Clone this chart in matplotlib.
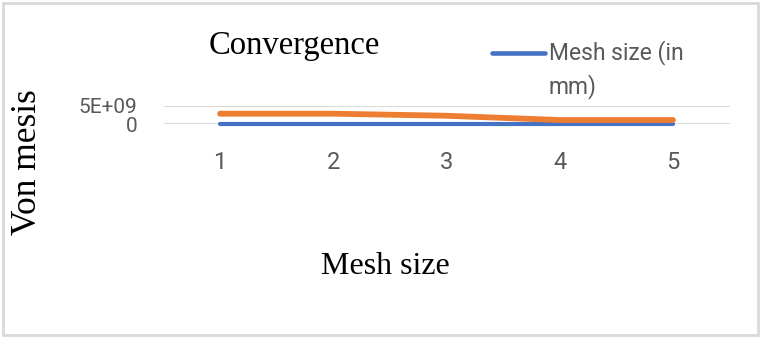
import matplotlib
matplotlib.use('Agg')
from matplotlib import pyplot as plt
from matplotlib.lines import Line2D
from matplotlib.patches import Rectangle

# data
mesh_cats = ['1', '2', '3', '4', '5']
mesh_size_mm = [5, 4, 3, 2, 1]
von_mises = [2.85e9, 2.85e9, 2.3e9, 1.15e9, 1.15e9]
y_ticks = [0, 5e9]
y_tick_labels = ['0', '5E+09']

sans = ['Liberation Sans Narrow', 'Roboto', 'DejaVu Sans']
serif = ['Liberation Serif', 'DejaVu Serif']
blue = '#4472C4'
orange = '#ED7D31'
grey_txt = '#595959'

fig = plt.figure(figsize=(7.62, 3.39), dpi=100)
W, H = 762, 339

# outer chart border
fig.add_artist(Rectangle((2.5 / W, 4 / H), 755 / W, 332 / H, transform=fig.transFigure,
                         fill=False, edgecolor='#d9d9d9', linewidth=2))

ax = fig.add_axes([163.5 / W, (H - 124.3) / H, 566 / W, 18.6 / H])
x = range(len(mesh_cats))
ax.plot(x, mesh_size_mm, color=blue, linewidth=3, solid_capstyle='round', zorder=3, clip_on=False)
ax.plot(x, von_mises, color=orange, linewidth=4.2, solid_capstyle='round', zorder=4, clip_on=False)

ax.set_xlim(-0.5, len(mesh_cats) - 0.5)
ax.set_ylim(0, 5e9)
ax.set_xticks(list(x))
ax.set_xticklabels(mesh_cats, family=sans, fontsize=17, color=grey_txt)
ax.set_yticks(y_ticks)
ax.set_yticklabels(y_tick_labels, family=sans, fontsize=15, color=grey_txt)
ax.tick_params(axis='x', length=0, pad=19)
ax.tick_params(axis='y', length=0, pad=19)
for s in ax.spines.values():
    s.set_visible(False)
ax.grid(axis='y', color='#d9d9d9', linewidth=1.5)
ax.set_axisbelow(True)

# titles
fig.text(294 / W, 1 - 46 / H, 'Convergence', family=serif, fontsize=23.5,
         ha='center', va='center', color='black')
fig.text(385 / W, 1 - 267 / H, 'Mesh size', family=serif, fontsize=23,
         ha='center', va='center', color='black')
fig.text(27 / W, 1 - 162 / H, 'Von mesis', family=serif, fontsize=25.5, rotation=90,
         ha='center', va='center', color='black')

# legend (only the blue series is listed)
fig.add_artist(Line2D([492 / W, 545 / W], [1 - 52.5 / H, 1 - 52.5 / H], transform=fig.transFigure,
                      color=blue, linewidth=3.3, solid_capstyle='round'))
fig.text(549 / W, 1 - 52.5 / H, 'Mesh size (in', family=sans, fontsize=16.5,
         ha='left', va='center', color=grey_txt)
fig.text(549 / W, 1 - 87 / H, 'mm)', family=sans, fontsize=16.5,
         ha='left', va='center', color=grey_txt)

fig.savefig('out.png', dpi=100)
